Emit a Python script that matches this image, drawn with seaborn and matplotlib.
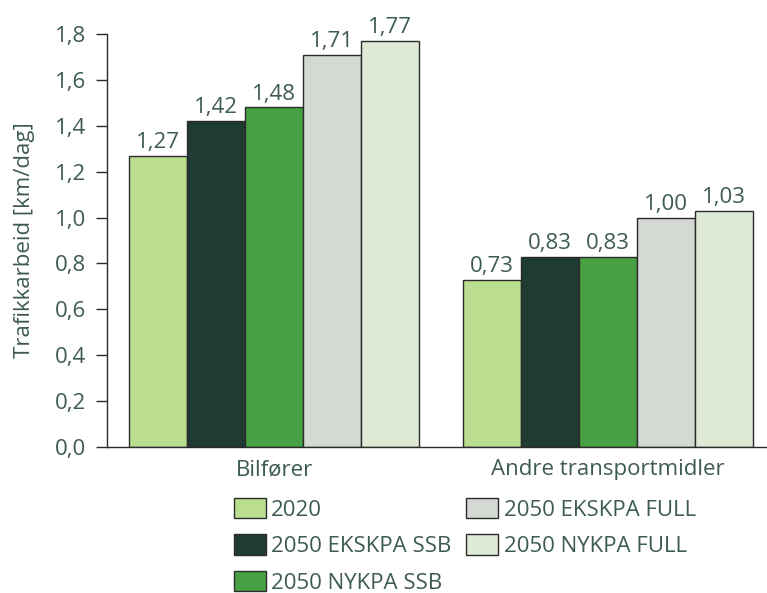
import matplotlib
matplotlib.use("Agg")
import matplotlib.pyplot as plt
import seaborn as sns
import pandas as pd
from matplotlib.ticker import FuncFormatter

categories = ["Bilfører", "Andre transportmidler"]
series = ["2020", "2050 EKSKPA SSB", "2050 NYKPA SSB", "2050 EKSKPA FULL", "2050 NYKPA FULL"]
values = {
    "2020": [1.27, 0.73],
    "2050 EKSKPA SSB": [1.42, 0.83],
    "2050 NYKPA SSB": [1.48, 0.83],
    "2050 EKSKPA FULL": [1.71, 1.00],
    "2050 NYKPA FULL": [1.77, 1.03],
}
colors = ["#badd90", "#1f3b33", "#47a142", "#d4d9d3", "#dfead6"]
text_color = "#3e5a55"

rows = []
for s in series:
    for c, v in zip(categories, values[s]):
        rows.append({"Kategori": c, "Serie": s, "Verdi": v})
df = pd.DataFrame(rows)

sns.set_style("white")
plt.rcParams["font.family"] = ["Open Sans", "DejaVu Sans"]
FS = 16

fig = plt.figure(figsize=(7.67, 5.93), dpi=100)
ax = fig.add_axes([107 / 767, 1 - 447 / 593, 1 - 107 / 767, 413 / 593])

sns.barplot(data=df, x="Kategori", y="Verdi", hue="Serie", hue_order=series,
            order=categories, palette=colors, width=0.87, ax=ax,
            edgecolor="#2b2b2b", linewidth=1.0, saturation=1, legend=True)

for cont in ax.containers:
    ax.bar_label(cont, labels=[f"{v:.2f}".replace(".", ",") for v in cont.datavalues],
                 padding=2, fontsize=FS, color=text_color)

ax.set_ylim(0, 1.8)
ax.set_xlim(-0.5, -0.5 + 660 / 334)
ax.set_yticks([i * 0.2 for i in range(10)])
ax.yaxis.set_major_formatter(FuncFormatter(lambda v, p: f"{v:.1f}".replace(".", ",")))
ax.tick_params(axis="y", direction="out", length=8, width=1, color="#2b2b2b",
               labelsize=FS, labelcolor=text_color, pad=7, left=True)
ax.tick_params(axis="x", length=0, labelsize=FS, labelcolor=text_color, pad=9)
ax.set_xlabel("")
ax.set_ylabel("Trafikkarbeid [km/dag]", fontsize=FS, color=text_color, labelpad=14)

for side in ["top", "right"]:
    ax.spines[side].set_visible(False)
for side in ["left", "bottom"]:
    ax.spines[side].set_color("#2b2b2b")
    ax.spines[side].set_linewidth(1.0)

handles, labels = ax.get_legend_handles_labels()
ax.legend_.remove()
leg = fig.legend(handles, labels, ncol=2, loc="upper left",
                 bbox_to_anchor=(216 / 767, 1 - 480 / 593), frameon=False,
                 fontsize=FS, handlelength=1.44, handleheight=1.04,
                 handletextpad=0.25, columnspacing=0.65, labelspacing=0.62,
                 labelcolor=text_color, borderpad=0.3)

fig.savefig("out.png", dpi=100)
